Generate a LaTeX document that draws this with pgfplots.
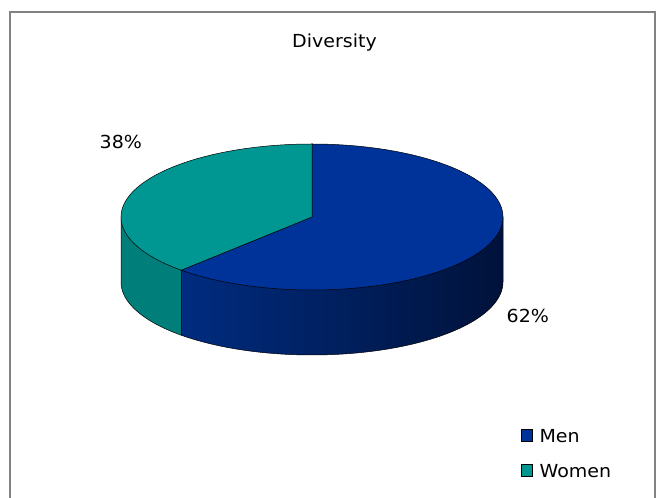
\documentclass[border=0pt]{standalone}
\usepackage{fontspec}
\setmainfont[FakeStretch=1.06]{DejaVu Sans}
\usepackage{pgfplots}
\usepackage{pgfplotstable}
\pgfplotsset{compat=1.18}
\definecolor{menTop}{RGB}{0,51,153}
\definecolor{menSideL}{RGB}{0,44,128}
\definecolor{menSideR}{RGB}{0,18,58}
\definecolor{womenTop}{RGB}{0,150,146}
\definecolor{womenSide}{RGB}{0,126,122}
\definecolor{frame}{RGB}{130,130,130}
\pgfplotstableread{
label value
Men 62
Women 38
}\piedata
\newcommand{\lblfont}{\fontsize{18}{21}\selectfont}
\begin{document}%
\begin{tikzpicture}
\pgfplotstablegetelem{1}{value}\of\piedata
\pgfmathsetmacro{\aS}{90+3.6*\pgfplotsretval}
\pgfmathsetmacro{\xS}{312+191*cos(\aS)}
\pgfmathsetmacro{\yS}{281+73*sin(\aS)}
\begin{axis}[
  scale only axis, width=659bp, height=498bp,
  xmin=0, xmax=659, ymin=0, ymax=498,
  hide axis,
  legend style={draw=none, fill=none, at={(axis cs:521,69)}, anchor=north west,
    inner sep=0pt, row sep=21bp, column sep=0bp, font=\lblfont,
    nodes={inner sep=1bp, text height=12bp, text depth=0bp},
    cells={anchor=west}},
  legend image code/.code={\draw[#1,draw=black,line width=0.7bp] (0bp,-5bp) rectangle (11bp,6.5bp);
    \path[draw=none,fill=none] (0bp,0bp) -- (17bp,0bp);},
]
\fill[white] (rel axis cs:0,0) rectangle (rel axis cs:1,1);
\draw[frame, line width=2bp] (axis cs:10,-5) -- (axis cs:10,486) -- (axis cs:655,486) -- (axis cs:655,-5);
% sides
\addplot[forget plot, fill=womenSide, draw=black, line width=0.5bp, domain=180:\aS, samples=60, variable=\t]
  ({312+191*cos(\t)},{216+73*sin(\t)}) -- (axis cs:\xS,\yS) -- (axis cs:121,281) -- cycle;
\addplot[forget plot, left color=menSideL, right color=menSideR, draw=black, line width=0.5bp, domain=\aS:360, samples=100, variable=\t]
  ({312+191*cos(\t)},{216+73*sin(\t)}) -- (axis cs:503,281) -- (axis cs:\xS,\yS) -- cycle;
% tops
\addplot[fill=menTop, draw=black, line width=0.5bp, domain=\aS:450, samples=150, variable=\t]
  ({312+191*cos(\t)},{281+73*sin(\t)}) -- (axis cs:312,281) -- cycle;
\addlegendentry{Men}
\addplot[fill=womenTop, draw=black, line width=0.5bp, domain=90:\aS, samples=100, variable=\t]
  ({312+191*cos(\t)},{281+73*sin(\t)}) -- (axis cs:312,281) -- cycle;
\addlegendentry{Women}
% labels
\node[anchor=base, font=\lblfont, inner sep=0pt] at (axis cs:334.5,450) {Diversity};
\node[anchor=base west, font=\lblfont, inner sep=0pt] at (axis cs:99.5,349) {38\%};
\node[anchor=base west, font=\lblfont, inner sep=0pt] at (axis cs:506.5,175) {62\%};
\end{axis}
\end{tikzpicture}%
\end{document}
